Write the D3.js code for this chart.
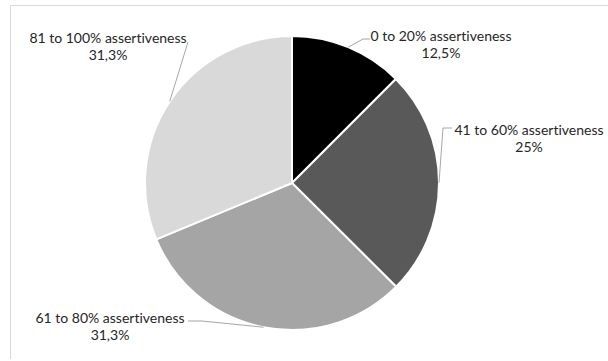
<!DOCTYPE html>
<html>
<head>
<meta charset="utf-8">
<script src="https://cdn.jsdelivr.net/npm/d3@7"></script>
<style>
  html, body { margin: 0; padding: 0; background: #fff; }
  svg { display: block; }
  text.lbl { font-variant-ligatures: none; font-feature-settings: "liga" 0, "clig" 0; }
</style>
</head>
<body>
<svg id="chart" width="608" height="361"></svg>
<script>
// Share of respondents by assertiveness band
const categories = ["0 to 20% assertiveness", "41 to 60% assertiveness", "61 to 80% assertiveness", "81 to 100% assertiveness"];
const values = [12.5, 25, 31.3, 31.3];
const valueLabels = ["12,5%", "25%", "31,3%", "31,3%"];
const sliceColors = ["#000000", "#595959", "#a5a5a5", "#d9d9d9"];

const svg = d3.select("#chart");
const cx = 292, cy = 183, R = 147;

// chart frame (top and left edges)
svg.append("line").attr("x1", 10.5).attr("y1", 5.5).attr("x2", 608).attr("y2", 5.5)
  .attr("stroke", "#d9d9d9").attr("stroke-width", 1);
svg.append("line").attr("x1", 10.5).attr("y1", 5.5).attr("x2", 10.5).attr("y2", 359)
  .attr("stroke", "#d9d9d9").attr("stroke-width", 1);

const data = categories.map((c, i) => ({ name: c, value: values[i], label: valueLabels[i], color: sliceColors[i] }));

const pie = d3.pie().sort(null).value(d => d.value).startAngle(0).endAngle(2 * Math.PI);
const arcs = pie(data);
const arc = d3.arc().innerRadius(0).outerRadius(R);

const g = svg.append("g").attr("transform", `translate(${cx},${cy})`);
g.selectAll("path.slice").data(arcs).enter().append("path")
  .attr("class", "slice")
  .attr("d", arc)
  .attr("fill", d => d.data.color)
  .attr("stroke", "#fff")
  .attr("stroke-width", 2)
  .attr("stroke-linejoin", "round");

// label placement: text centre and leader elbow, relative to the pie centre
const labelLayout = [
  { tx: 149, ty: -147, elbow: [[71, -144], [78, -144]] },
  { tx: 237, ty: -53, elbow: [[151, -55], [160, -55]] },
  { tx: -182, ty: 135, elbow: [[-90, 138], [-104, 138]] },
  { tx: -184, ty: -145, elbow: [[-104, -141]] }
];

const outerPoint = d => {
  const a = (d.startAngle + d.endAngle) / 2;
  return [R * Math.sin(a), -R * Math.cos(a)];
};

const line = d3.line();
g.selectAll("path.leader").data(arcs).enter().append("path")
  .attr("class", "leader")
  .attr("d", (d, i) => line([outerPoint(d)].concat(labelLayout[i].elbow)))
  .attr("fill", "none")
  .attr("stroke", "#a6a6a6")
  .attr("stroke-width", 1);

const labels = g.selectAll("text.lbl").data(arcs).enter().append("text")
  .attr("class", "lbl")
  .attr("text-anchor", "middle")
  .attr("font-family", "Lato, 'Open Sans', sans-serif")
  .attr("font-size", 14)
  .attr("fill", "#262626");

labels.append("tspan")
  .attr("x", (d, i) => labelLayout[i].tx)
  .attr("y", (d, i) => labelLayout[i].ty)
  .attr("dy", "0.35em")
  .text(d => d.data.name);
labels.append("tspan")
  .attr("x", (d, i) => labelLayout[i].tx)
  .attr("y", (d, i) => labelLayout[i].ty + 17.5)
  .attr("dy", "0.35em")
  .text(d => d.data.label);
</script>
</body>
</html>
